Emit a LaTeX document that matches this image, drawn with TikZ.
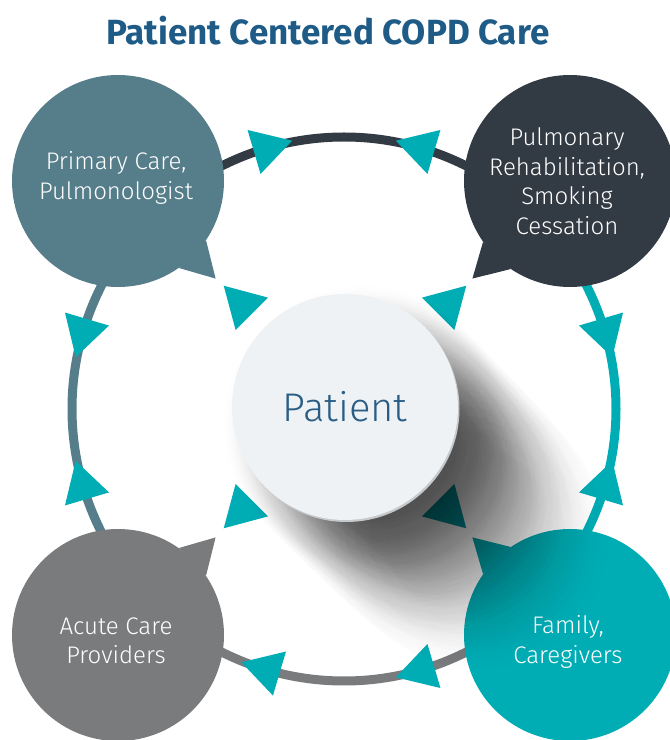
\documentclass[tikz,border=0pt]{standalone}
\usepackage{fontspec}
\setmainfont{Fira Sans}
\newfontfamily\lightfont{Fira Sans Light}
\usepackage{tikz}
\usetikzlibrary{shapes.geometric,calc,fadings}
\definecolor{titleblue}{HTML}{1E5B87}
\definecolor{primcol}{HTML}{567D8A}
\definecolor{pulmcol}{HTML}{323A44}
\definecolor{acutecol}{HTML}{7A7B7D}
\definecolor{famcol}{HTML}{00ADB5}
\definecolor{patfill}{HTML}{EEF2F4}
\definecolor{patrim}{HTML}{C5C9CC}
\definecolor{pattext}{HTML}{2A5D85}
\pgfdeclareradialshading{shadowshade}{\pgfpointorigin}{color(0bp)=(pgftransparent!0); color(14bp)=(pgftransparent!0); color(25bp)=(pgftransparent!100); color(50bp)=(pgftransparent!100)}
\pgfdeclarefading{soft shadow}{\pgfuseshading{shadowshade}}
\tikzset{
  care circle/.style={
    circle,
    fill=#1,
    minimum size=212pt,
    inner sep=0pt,
  },
  care text/.style={
    text=white,
    align=center,
    font=\lightfont\fontsize{24}{29.5}\selectfont,
  },
  ring arc/.style={
    draw=#1,
    line width=9pt,
  },
  arrow head/.style={
    regular polygon,
    regular polygon sides=3,
    fill=famcol,
    minimum size=53pt,
    inner sep=0pt,
  },
  patient circle/.style={
    circle,
    fill=patfill,
    minimum size=226pt,
    inner sep=0pt,
    text=pattext,
    font=\lightfont\fontsize{40}{48}\selectfont,
  },
  title/.style={
    anchor=base,
    text=titleblue,
    font=\bfseries\fontsize{35}{40}\selectfont,
  }
}

\begin{document}
\begin{tikzpicture}[x=1pt,y=1pt]
    \useasboundingbox (0,0) rectangle (670,740);
    \coordinate (ring) at (344,331);
    \coordinate (pc) at (345,333);

    \draw [ring arc=pulmcol] ($(ring)+(45:272)$) arc[start angle=45, end angle=135, radius=272];
    \draw [ring arc=primcol] ($(ring)+(135:272)$) arc[start angle=135, end angle=225, radius=272];
    \draw [ring arc=acutecol] ($(ring)+(225:272)$) arc[start angle=225, end angle=315, radius=272];
    \draw [ring arc=famcol] ($(ring)+(-45:272)$) arc[start angle=-45, end angle=45, radius=272];

    \node [care circle=primcol] (prim) at (118,559) {};
    \node [care circle=pulmcol] (pulm) at (570,559) {};
    \node [care circle=acutecol] (acute) at (118,105) {};
    \node [care circle=famcol] (fam) at (570,105) {};

    \fill [primcol] (prim.-34.5) -- ($(prim)+(-45:138)$) -- (prim.-55.5) -- cycle;
    \fill [pulmcol] (pulm.-124.5) -- ($(pulm)+(-135:138)$) -- (pulm.-145.5) -- cycle;
    \fill [acutecol] (acute.34.5) -- ($(acute)+(45:138)$) -- (acute.55.5) -- cycle;
    \fill [famcol] (fam.124.5) -- ($(fam)+(135:138)$) -- (fam.145.5) -- cycle;

    \node [care text] (primtxt) at ($(prim)+(-2,3)$) {Primary Care,\\Pulmonologist};
    \node [care text] (pulmtxt) at ($(pulm)+(-3,0)$) {Pulmonary\\Rehabilitation,\\Smoking\\Cessation};
    \node [care text] (acutetxt) at ($(acute)+(-2,-6)$) {Acute Care\\Providers};
    \node [care text] (famtxt) at ($(fam)+(-2,-7)$) {Family,\\Caregivers};

    \node [arrow head, rotate=-73.5] (top1) at ($(ring)+(106.5:272)$) {};
    \node [arrow head, rotate=73.5] (top2) at ($(ring)+(73.5:272)$) {};
    \node [arrow head, rotate=163.5] (left1) at ($(ring)+(163.5:272)$) {};
    \node [arrow head, rotate=16.5] (left2) at ($(ring)+(196.5:272)$) {};
    \node [arrow head, rotate=73.5] (bot1) at ($(ring)+(253.5:272)$) {};
    \node [arrow head, rotate=106.5] (bot2) at ($(ring)+(286.5:272)$) {};
    \node [arrow head, rotate=-163.5] (right1) at ($(ring)+(16.5:272)$) {};
    \node [arrow head, rotate=-16.5] (right2) at ($(ring)+(-16.5:272)$) {};

    \node [arrow head, rotate=45] (in1) at ($(pc)+(135:145)$) {};
    \node [arrow head, rotate=-45] (in2) at ($(pc)+(45:145)$) {};
    \node [arrow head, rotate=135] (in3) at ($(pc)+(225:145)$) {};
    \node [arrow head, rotate=225] (in4) at ($(pc)+(315:145)$) {};

    \foreach \k in {1,...,24}
        \fill [black, opacity={0.085*(1-\k/28)}, path fading=soft shadow] ($(pc)+(12+5*\k,-12-5*\k)$) circle[radius=140];
    \fill [patrim] ($(pc)+(1.5,-2)$) circle[radius=113];
    \node [patient circle] (patient) at (pc) {Patient};

    \node [title] (head) at (328,695) {Patient Centered COPD Care};
\end{tikzpicture}
\end{document}
